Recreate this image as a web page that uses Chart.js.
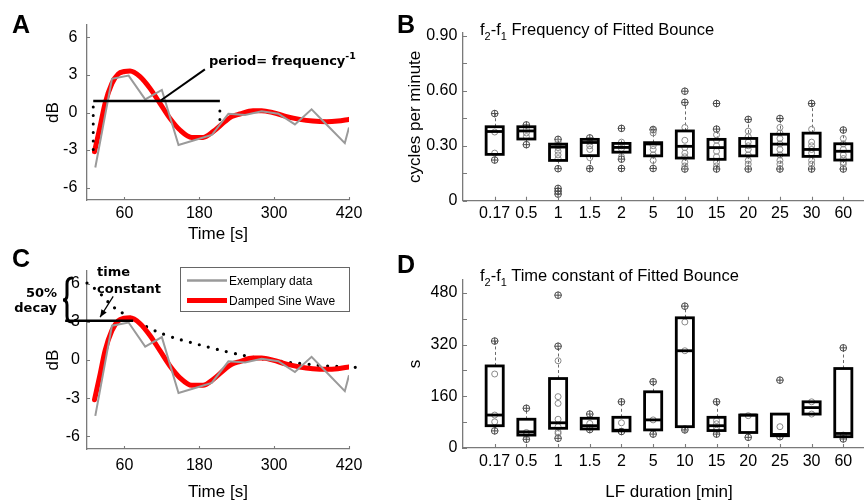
<!DOCTYPE html>
<html><head><meta charset="utf-8">
<script src="https://cdn.jsdelivr.net/npm/chart.js@4.4.0/dist/chart.umd.min.js"></script>
<style>
html,body{margin:0;padding:0;background:#fff;overflow:hidden}
#wrap{position:relative;width:864px;height:503px;overflow:hidden;background:#fff;font-family:"Liberation Sans",Arial,sans-serif}
canvas{position:absolute}
.t{position:absolute;white-space:nowrap;line-height:1;color:#000}
.lbl{font-weight:bold;font-size:25px}
.ttl{font-size:16.5px}
.ttl sub{font-size:11px;vertical-align:-5px;line-height:0}
.ann{font-family:"DejaVu Sans",sans-serif;font-weight:bold;font-size:13px}
.ann sup{font-size:9.5px;vertical-align:6px;line-height:0}
.leg{font-size:12px}
</style></head>
<body>
<div id="wrap">
 <canvas id="cA" width="380" height="250" style="left:0;top:0"></canvas>
 <canvas id="cC" width="380" height="263" style="left:0;top:240px"></canvas>
 <canvas id="cB" width="500" height="240" style="left:380px;top:0"></canvas>
 <canvas id="cD" width="500" height="263" style="left:380px;top:240px"></canvas>
 <div class="t lbl" style="left:12px;top:12px">A</div>
 <div class="t lbl" style="left:397px;top:12px">B</div>
 <div class="t lbl" style="left:12px;top:246px">C</div>
 <div class="t lbl" style="left:397px;top:252px">D</div>
 <div class="t ttl" style="left:480px;top:21px">f<sub>2</sub>-f<sub>1</sub> Frequency of Fitted Bounce</div>
 <div class="t ttl" style="left:480px;top:267px">f<sub>2</sub>-f<sub>1</sub> Time constant of Fitted Bounce</div>
 <div class="t ann" style="left:209px;top:54px">period= frequency<sup>-1</sup></div>
 <div class="t ann" style="left:97px;top:265px">time</div>
 <div class="t ann" style="left:97px;top:282px">constant</div>
 <div class="t ann" style="right:807px;top:286px">50%</div>
 <div class="t ann" style="right:807px;top:301px">decay</div>
 <div class="t leg" style="left:229px;top:275px">Exemplary data</div>
 <div class="t leg" style="left:229px;top:295px">Damped Sine Wave</div>
</div>
<script>
Chart.defaults.font.family = "'Liberation Sans', Arial, sans-serif";
Chart.defaults.font.size = 16;
Chart.defaults.color = '#000';

// ---------- Panels A and C: time course ----------
const dataTime = [13.3, 40, 66.7, 93.3, 120, 146.7, 173.3, 200, 226.7, 253.3, 280, 306.7, 333.3, 360, 386.7, 413.3, 420];
const dataDB   = [-4.4, 2.7, 2.95, 1.05, 1.8, -2.6, -2.2, -1.8, -0.1, -0.2, 0.1, -0.1, -0.95, 0.25, -1.1, -2.45, -1.2];
const fitTime  = [12, 21, 29, 40, 50, 60, 69, 85, 101, 117, 133, 149, 168, 186, 202, 221, 232, 245, 266, 280, 298, 320, 341, 362, 384, 402, 420];
const fitDB    = [-3.13, -1.13, 0.73, 2.33, 3.08, 3.28, 3.32, 2.87, 1.93, 0.73, -0.47, -1.4, -1.99, -1.99, -1.53, -0.73, -0.33, -0.12, 0.15, 0.15, -0.01, -0.33, -0.55, -0.68, -0.73, -0.68, -0.55];
const envTime  = [0, 16.5, 31.5, 44.8, 59.2, 73, 103.5, 133.9, 164.8, 195.7, 226.1, 258.1, 287.5, 319.5, 351.5, 383.5, 415.5, 431.5];
const envDB    = [6.05, 5.45, 4.68, 4.08, 3.63, 3.26, 2.42, 1.84, 1.4, 1.0, 0.63, 0.29, 0.05, -0.16, -0.32, -0.47, -0.53, -0.58];
const timeTicks = [60, 180, 300, 420];
const timeTickLabels = ['60', '180', '300', '420'];
const dbTicks = [-6, -3, 0, 3, 6];
const dbTickLabels = ['-6', '-3', '0', '3', '6'];
// annotation geometry in data units
const periodLine = {t0: 10, t1: 213, v: 0.92};
const periodDotsLeft = {t: 10, v0: 0.92, v1: -3.0};
const periodDotsRight = {t: 213, v0: 0.6, v1: -1.1};
const periodLeader = {t0: 117, v0: 0.92, t1: 189, v1: 3.45};
const halfLine = {t0: -35, t1: 74, v: 3.08};
const tauArrow = {t0: 42, v0: 5.0, t1: 21, v1: 3.37};

// ---------- Panels B and D: box plots ----------
const durations = ['0.17', '0.5', '1', '1.5', '2', '5', '10', '15', '20', '25', '30', '60'];
const freqQ1  = [0.253, 0.337, 0.220, 0.246, 0.265, 0.245, 0.233, 0.226, 0.245, 0.249, 0.242, 0.222];
const freqMed = [0.378, 0.381, 0.293, 0.318, 0.291, 0.310, 0.297, 0.290, 0.297, 0.309, 0.280, 0.270];
const freqQ3  = [0.404, 0.404, 0.309, 0.335, 0.313, 0.317, 0.381, 0.335, 0.340, 0.363, 0.369, 0.311];
const freqLo  = [0.222, 0.306, 0.175, 0.175, 0.227, 0.176, 0.173, 0.173, 0.173, 0.173, 0.173, 0.173];
const freqHi  = [0.476, 0.414, 0.335, 0.343, 0.330, 0.389, 0.537, 0.391, 0.444, 0.449, 0.531, 0.386];
const freqMarks = [
  [0.222, 0.476], [0.306, 0.414], [0.175, 0.335, 0.067, 0.052, 0.036], [0.175, 0.343],
  [0.227, 0.176, 0.395], [0.176, 0.389], [0.173, 0.537, 0.598], [0.173, 0.391, 0.531],
  [0.173, 0.444], [0.173, 0.449], [0.173, 0.531], [0.173, 0.386]
];
const freqPoints = [
  [0.375, 0.26], [0.39, 0.37, 0.35], [0.32, 0.30, 0.29, 0.27, 0.25, 0.23], [0.32, 0.30, 0.28, 0.235],
  [0.32, 0.30, 0.285, 0.24], [0.385, 0.37, 0.30, 0.28, 0.25, 0.22], [0.40, 0.33, 0.29, 0.26, 0.24, 0.21, 0.19],
  [0.36, 0.33, 0.30, 0.27, 0.24, 0.21, 0.19], [0.38, 0.35, 0.32, 0.30, 0.28, 0.25, 0.22, 0.20],
  [0.40, 0.37, 0.34, 0.31, 0.28, 0.25, 0.22, 0.20], [0.39, 0.32, 0.30, 0.28, 0.26, 0.22, 0.20],
  [0.34, 0.31, 0.28, 0.25, 0.23, 0.21, 0.20]
];
const freqTicks = [0, 0.15, 0.30, 0.45, 0.60, 0.75, 0.90];
const freqTickLabels = ['0', '', '0.30', '', '0.60', '', '0.90'];

const tauQ1  = [69, 40, 61, 59, 53, 56, 66, 54, 48, 38, 105, 35];
const tauMed = [102, 50, 78, 69, 55, 87, 301, 69, 102, 42, 125, 45];
const tauQ3  = [254, 89, 215, 92, 95, 174, 403, 95, 102, 105, 143, 246];
const tauLo  = [53, 27, 30, 57, 51, 43, 56, 43, 33, 35, 105, 28];
const tauHi  = [331, 123, 315, 105, 143, 205, 439, 143, 104, 105, 143, 310];
const tauMarks = [
  [53, 331], [27, 123], [30, 315, 473], [57, 105], [51, 143], [43, 205],
  [56, 439], [43, 143], [33], [35, 210], [], [28, 310]
];
const tauPoints = [
  [229, 102, 81], [48, 40], [270, 159, 138, 89, 66, 50, 45], [76, 63], [78], [87],
  [390, 301, 60], [85, 75, 62, 55], [100], [66], [143, 105], [40]
];
const tauTicks = [0, 80, 160, 240, 320, 400, 480];
const tauTickLabels = ['0', '', '160', '', '320', '', '480'];

const boxHalfWidth = 0.27;
const AXIS = '#7a7a7a';

const zip = (xs, ys) => xs.map((x, i) => ({x, y: ys[i]}));
const toPts = arr => arr.flatMap((vals, i) => vals.map(v => ({x: i, y: v})));

function makeScale(opts) {
  return {
    type: 'linear', min: opts.min, max: opts.max,
    afterBuildTicks: s => { s.ticks = opts.ticks.map(v => ({value: v})); },
    afterFit: s => { if (opts.height !== undefined) s.height = opts.height; if (opts.width !== undefined) s.width = opts.width; },
    grid: {display: false, drawTicks: false, tickLength: 0},
    border: {display: true, color: AXIS, width: 1.3},
    ticks: {autoSkip: false, maxRotation: 0, minRotation: 0, padding: opts.pad, color: '#000',
            font: {size: 16}, callback: (v, i) => opts.labels[i]},
    title: opts.title ? {display: true, text: opts.title, color: '#000', font: {size: 17},
            padding: {top: opts.tpad || 0, bottom: opts.tpad || 0}} : {display: false}
  };
}

const inTicks = {
  id: 'inTicks',
  afterDraw(chart, args, o) {
    const {ctx, chartArea: ca, scales: {x, y}} = chart;
    const len = o.len || 3;
    ctx.save(); ctx.strokeStyle = AXIS; ctx.lineWidth = 1.1;
    ctx.beginPath();
    x.ticks.forEach(t => { const px = Math.round(x.getPixelForValue(t.value)) + 0.5; ctx.moveTo(px, ca.bottom); ctx.lineTo(px, ca.bottom - len); });
    y.ticks.forEach(t => { const py = Math.round(y.getPixelForValue(t.value)) + 0.5; ctx.moveTo(ca.left, py); ctx.lineTo(ca.left + len, py); });
    ctx.stroke(); ctx.restore();
  }
};

function line(ctx, x0, y0, x1, y1) { ctx.beginPath(); ctx.moveTo(x0, y0); ctx.lineTo(x1, y1); ctx.stroke(); }

const annA = {
  id: 'annA',
  afterDatasetsDraw(chart) {
    const {ctx, scales: {x, y}} = chart;
    ctx.save(); ctx.strokeStyle = '#000';
    ctx.lineWidth = 2.5;
    line(ctx, x.getPixelForValue(periodLine.t0), y.getPixelForValue(periodLine.v), x.getPixelForValue(periodLine.t1), y.getPixelForValue(periodLine.v));
    ctx.lineWidth = 2;
    line(ctx, x.getPixelForValue(periodLeader.t0), y.getPixelForValue(periodLeader.v0), x.getPixelForValue(periodLeader.t1), y.getPixelForValue(periodLeader.v1));
    ctx.setLineDash([0, 8.5]); ctx.lineCap = 'round'; ctx.lineWidth = 3;
    [periodDotsLeft, periodDotsRight].forEach(d => {
      line(ctx, x.getPixelForValue(d.t), y.getPixelForValue(d.v0) + 6, x.getPixelForValue(d.t), y.getPixelForValue(d.v1));
    });
    ctx.restore();
  }
};

const annC = {
  id: 'annC',
  afterDatasetsDraw(chart) {
    const {ctx, scales: {x, y}} = chart;
    ctx.save(); ctx.strokeStyle = '#000'; ctx.fillStyle = '#000';
    ctx.lineWidth = 2.5;
    line(ctx, x.getPixelForValue(halfLine.t0), y.getPixelForValue(halfLine.v), x.getPixelForValue(halfLine.t1), y.getPixelForValue(halfLine.v));
    // arrow
    const ax0 = x.getPixelForValue(tauArrow.t0), ay0 = y.getPixelForValue(tauArrow.v0);
    const ax1 = x.getPixelForValue(tauArrow.t1), ay1 = y.getPixelForValue(tauArrow.v1);
    ctx.lineWidth = 1.2;
    line(ctx, ax0, ay0, ax1, ay1);
    const ang = Math.atan2(ay1 - ay0, ax1 - ax0);
    ctx.beginPath();
    ctx.moveTo(ax1, ay1);
    ctx.lineTo(ax1 - 8 * Math.cos(ang - 0.4), ay1 - 8 * Math.sin(ang - 0.4));
    ctx.lineTo(ax1 - 8 * Math.cos(ang + 0.4), ay1 - 8 * Math.sin(ang + 0.4));
    ctx.closePath(); ctx.fill();
    // brace (pixel layout)
    ctx.lineWidth = 3; ctx.lineCap = 'round';
    const bx = 70, by0 = 38, by1 = 82, bm = (by0 + by1) / 2;
    ctx.beginPath();
    ctx.moveTo(bx + 2, by0);
    ctx.quadraticCurveTo(bx - 3, by0, bx - 3, by0 + 6);
    ctx.lineTo(bx - 3, bm - 5);
    ctx.quadraticCurveTo(bx - 3, bm, bx - 7, bm);
    ctx.quadraticCurveTo(bx - 3, bm, bx - 3, bm + 5);
    ctx.lineTo(bx - 3, by1 - 6);
    ctx.quadraticCurveTo(bx - 3, by1, bx + 2, by1);
    ctx.stroke();
    // legend box
    ctx.lineCap = 'butt';
    ctx.fillStyle = '#fff'; ctx.fillRect(180, 27.5, 169, 44);
    ctx.strokeStyle = '#666'; ctx.lineWidth = 1; ctx.strokeRect(180.5, 27.5, 169, 44);
    ctx.strokeStyle = '#9a9a9a'; ctx.lineWidth = 2.5; line(ctx, 187, 40.5, 227, 40.5);
    ctx.strokeStyle = '#ff0000'; ctx.lineWidth = 5; line(ctx, 187, 60.5, 227, 60.5);
    ctx.restore();
  }
};

function timeChart(id, padTop, axisH, xPad, yPad, xTitlePad, withEnv, plugin) {
  const ds = [
    {label: 'Exemplary data', data: zip(dataTime, dataDB), borderColor: '#9a9a9a', borderWidth: 2, pointRadius: 0, tension: 0},
    {label: 'Damped Sine Wave', data: zip(fitTime, fitDB), borderColor: '#ff0000', borderWidth: 5, pointRadius: 0, cubicInterpolationMode: 'monotone', borderCapStyle: 'round'}
  ];
  if (withEnv) ds.push({label: 'envelope', data: zip(envTime, envDB), borderColor: '#000', borderWidth: 3.2, pointRadius: 0,
    borderDash: [0, 9.3], borderCapStyle: 'round', tension: 0.4, clip: false});
  return new Chart(document.getElementById(id), {
    type: 'line',
    data: {datasets: ds},
    options: {
      responsive: false, animation: false, events: [],
      layout: {padding: {left: 0, top: padTop, right: 31, bottom: 0}},
      plugins: {legend: {display: false}, tooltip: {enabled: false}, inTicks: {len: 3}},
      scales: {
        x: makeScale({min: 0, max: 420, ticks: timeTicks, labels: timeTickLabels, pad: xPad, height: axisH, title: 'Time [s]', tpad: xTitlePad}),
        y: makeScale({min: -7, max: 7, ticks: dbTicks, labels: dbTickLabels, pad: yPad, width: 87, title: 'dB', tpad: 43})
      }
    },
    plugins: [inTicks, plugin]
  });
}

timeChart('cA', 25, 50, 4, 9.7, 5, false, annA);
timeChart('cC', 31, 54, 6.5, 7, 0, true, annC);

function makeBoxPlugin(id, q1, med, q3, lo, hi) {
  return {
    id,
    beforeDatasetsDraw(chart) {
      const {ctx, scales: {x, y}} = chart;
      ctx.save(); ctx.strokeStyle = '#6a6a6a'; ctx.lineWidth = 1; ctx.setLineDash([3, 2.5]);
      q1.forEach((_, i) => {
        const cx = Math.round(x.getPixelForValue(i)) + 0.5;
        ctx.beginPath();
        ctx.moveTo(cx, y.getPixelForValue(q3[i])); ctx.lineTo(cx, y.getPixelForValue(hi[i]));
        ctx.moveTo(cx, y.getPixelForValue(q1[i])); ctx.lineTo(cx, y.getPixelForValue(lo[i]));
        ctx.stroke();
      });
      ctx.restore();
    },
    afterDatasetsDraw(chart) {
      const {ctx, scales: {x, y}} = chart;
      const hw = x.getPixelForValue(boxHalfWidth) - x.getPixelForValue(0);
      ctx.save(); ctx.strokeStyle = '#000'; ctx.lineWidth = 2.8;
      q1.forEach((_, i) => {
        const cx = x.getPixelForValue(i);
        const yt = y.getPixelForValue(q3[i]), yb = y.getPixelForValue(q1[i]), ym = y.getPixelForValue(med[i]);
        ctx.strokeRect(cx - hw, yt, 2 * hw, yb - yt);
        line(ctx, cx - hw, ym, cx + hw, ym);
      });
      ctx.restore();
    }
  };
}

function boxChart(id, padTop, axisH, xPad, stats, ymax, yTicks, yLabels, yTitle, xTitle) {
  return new Chart(document.getElementById(id), {
    type: 'scatter',
    data: {datasets: [
      {data: toPts(stats.points), pointStyle: 'circle', pointRadius: 3, borderColor: '#8a8a8a', backgroundColor: 'rgba(0,0,0,0)', borderWidth: 1},
      {data: toPts(stats.marks), pointStyle: 'circle', pointRadius: 3.3, borderColor: '#4a4a4a', backgroundColor: 'rgba(0,0,0,0)', borderWidth: 1},
      {data: toPts(stats.marks), pointStyle: 'cross', pointRadius: 3.6, borderColor: '#4a4a4a', borderWidth: 1}
    ]},
    options: {
      responsive: false, animation: false, events: [],
      layout: {padding: {left: 0, top: padTop, right: 5, bottom: 0}},
      plugins: {legend: {display: false}, tooltip: {enabled: false}, inTicks: {len: 4}},
      scales: {
        x: makeScale({min: -1, max: 12, ticks: durations.map((_, i) => i), labels: durations, pad: xPad, height: axisH, title: xTitle, tpad: 0}),
        y: makeScale({min: 0, max: ymax, ticks: yTicks, labels: yLabels, pad: 5.7, width: 83, title: yTitle, tpad: 25})
      }
    },
    plugins: [inTicks, makeBoxPlugin(id + 'box', stats.q1, stats.med, stats.q3, stats.lo, stats.hi)]
  });
}

boxChart('cB', 33, 39.3, 3.4,
  {q1: freqQ1, med: freqMed, q3: freqQ3, lo: freqLo, hi: freqHi, marks: freqMarks, points: freqPoints},
  0.916, freqTicks, freqTickLabels, 'cycles per minute', null);
boxChart('cD', 40, 55, 4.1,
  {q1: tauQ1, med: tauMed, q3: tauQ3, lo: tauLo, hi: tauHi, marks: tauMarks, points: tauPoints},
  520, tauTicks, tauTickLabels, 's', 'LF duration [min]');
</script>
</body></html>
